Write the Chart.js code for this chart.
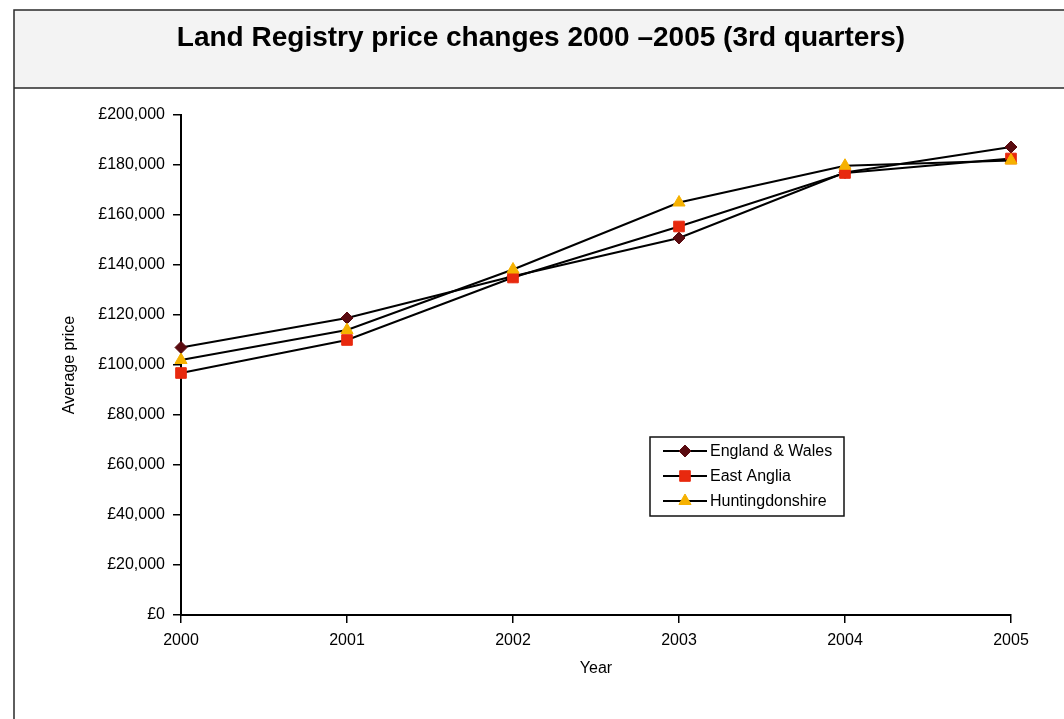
<!DOCTYPE html>
<html>
<head>
<meta charset="utf-8">
<script src="https://cdn.jsdelivr.net/npm/chart.js@4/dist/chart.umd.min.js"></script>
<style>
  html, body { margin: 0; padding: 0; background: #fff; }
  #wrap { width: 1064px; height: 719px; position: relative; }
</style>
</head>
<body>
<div id="wrap"><canvas id="c"></canvas></div>
<script>
// ---- data ----
const years = ['2000', '2001', '2002', '2003', '2004', '2005'];
const englandWales = [107000, 118800, 135500, 150800, 177000, 187200];
const eastAnglia = [96800, 110000, 135000, 155400, 176800, 182600];
const huntingdonshire = [102000, 114000, 138200, 165000, 179700, 181800];
const yTicks = [0, 20000, 40000, 60000, 80000, 100000, 120000, 140000, 160000, 180000, 200000];
const seriesNames = ['England & Wales', 'East Anglia', 'Huntingdonshire'];
const chartTitle = 'Land Registry price changes 2000 \u20132005 (3rd quarters)';
const xTitle = 'Year';
const yTitle = 'Average price';

const FONT = '"Liberation Sans", Arial, Helvetica, sans-serif';

function fmtPound(v) {
  return '\u00A3' + Number(v).toLocaleString('en-GB');
}

const framePlugin = {
  id: 'frame',
  beforeDraw(chart) {
    const ctx = chart.ctx;
    const W = chart.width, H = chart.height;
    ctx.save();
    ctx.fillStyle = '#ffffff';
    ctx.fillRect(0, 0, W, H);
    ctx.fillStyle = '#f3f3f3';
    ctx.fillRect(14, 10, W - 14, 78);
    ctx.strokeStyle = '#2a2a2a';
    ctx.lineWidth = 1.5;
    ctx.beginPath();
    ctx.moveTo(14, H); ctx.lineTo(14, 10); ctx.lineTo(W, 10);
    ctx.moveTo(14, 88); ctx.lineTo(W, 88);
    ctx.stroke();
    ctx.fillStyle = '#000';
    ctx.font = 'bold 28px ' + FONT;
    ctx.textAlign = 'center';
    ctx.textBaseline = 'middle';
    ctx.fillText(chartTitle, 541, 38);
    ctx.restore();
  }
};

function drawMarker(ctx, style, r, color, x, y) {
  if (Chart.helpers && Chart.helpers.drawPoint) {
    ctx.fillStyle = color;
    ctx.strokeStyle = color;
    ctx.lineWidth = 1;
    Chart.helpers.drawPoint(ctx, { pointStyle: style, radius: r, borderWidth: 1, rotation: 0 }, x, y);
    return;
  }
  ctx.fillStyle = color;
  ctx.beginPath();
  if (style === 'rectRot') {
    ctx.moveTo(x, y - r); ctx.lineTo(x + r, y); ctx.lineTo(x, y + r); ctx.lineTo(x - r, y);
  } else if (style === 'rect') {
    const s = r * Math.SQRT1_2;
    ctx.rect(x - s, y - s, 2 * s, 2 * s);
  } else {
    ctx.moveTo(x, y - r); ctx.lineTo(x + r * 0.866, y + r / 2); ctx.lineTo(x - r * 0.866, y + r / 2);
  }
  ctx.closePath();
  ctx.fill();
}

const legendPlugin = {
  id: 'boxLegend',
  afterDraw(chart) {
    const ctx = chart.ctx;
    const bx = 650, by = 437, bw = 194, bh = 79;
    ctx.save();
    ctx.fillStyle = '#fff';
    ctx.fillRect(bx, by, bw, bh);
    ctx.strokeStyle = '#111';
    ctx.lineWidth = 1.5;
    ctx.strokeRect(bx, by, bw, bh);
    chart.data.datasets.forEach((ds, i) => {
      const cy = by + 14 + i * 25;
      ctx.strokeStyle = '#000';
      ctx.lineWidth = 2;
      ctx.beginPath();
      ctx.moveTo(bx + 13, cy); ctx.lineTo(bx + 57, cy);
      ctx.stroke();
      drawMarker(ctx, ds.pointStyle, ds.pointRadius, ds.pointBackgroundColor, bx + 35, cy);
      ctx.fillStyle = '#000';
      ctx.font = '16px ' + FONT;
      ctx.textAlign = 'left';
      ctx.textBaseline = 'middle';
      ctx.fillText(ds.label, bx + 60, cy + 1);
    });
    ctx.restore();
  }
};

function mkDataset(label, data, style, radius, color, order) {
  return {
    label, data,
    borderColor: '#000', borderWidth: 2, tension: 0,
    pointStyle: style, pointRadius: radius, pointHoverRadius: radius,
    pointBackgroundColor: color, pointBorderColor: color, pointBorderWidth: 1,
    order, fill: false
  };
}

new Chart(document.getElementById('c'), {
  type: 'line',
  data: {
    labels: years,
    datasets: [
      mkDataset(seriesNames[0], englandWales, 'rectRot', 6, '#5a0b10', 2),
      mkDataset(seriesNames[1], eastAnglia, 'rect', 7.5, '#e8290e', 1),
      mkDataset(seriesNames[2], huntingdonshire, 'triangle', 7, '#f6b100', 0)
    ]
  },
  options: {
    responsive: true,
    maintainAspectRatio: false,
    animation: false,
    events: [],
    layout: { padding: { top: 115, left: 40, right: 53, bottom: 0 } },
    plugins: {
      legend: { display: false },
      title: { display: false },
      tooltip: { enabled: false }
    },
    scales: {
      x: {
        type: 'category',
        offset: false,
        grid: { drawOnChartArea: false, drawTicks: true, tickLength: 8, color: '#000', lineWidth: 1.5 },
        border: { display: true, color: '#000', width: 2 },
        ticks: { color: '#000', font: { family: FONT, size: 16 }, padding: 8, maxRotation: 0, autoSkip: false },
        title: { display: true, text: xTitle, color: '#000', font: { family: FONT, size: 16 }, padding: { top: 0, bottom: 41 } },
        afterFit(scale) { scale.height = 104; }
      },
      y: {
        min: 0, max: 200000,
        grid: { drawOnChartArea: false, drawTicks: true, tickLength: 8, color: '#000', lineWidth: 1.5 },
        border: { display: true, color: '#000', width: 2 },
        afterBuildTicks(scale) { scale.ticks = yTicks.map(v => ({ value: v })); },
        ticks: { color: '#000', font: { family: FONT, size: 16 }, padding: 8, callback: v => fmtPound(v) },
        title: { display: true, text: yTitle, color: '#000', font: { family: FONT, size: 16 }, padding: { top: 20, bottom: 0 } },
        afterFit(scale) { scale.width = 141; }
      }
    }
  },
  plugins: [framePlugin, legendPlugin]
});
</script>
</body>
</html>
